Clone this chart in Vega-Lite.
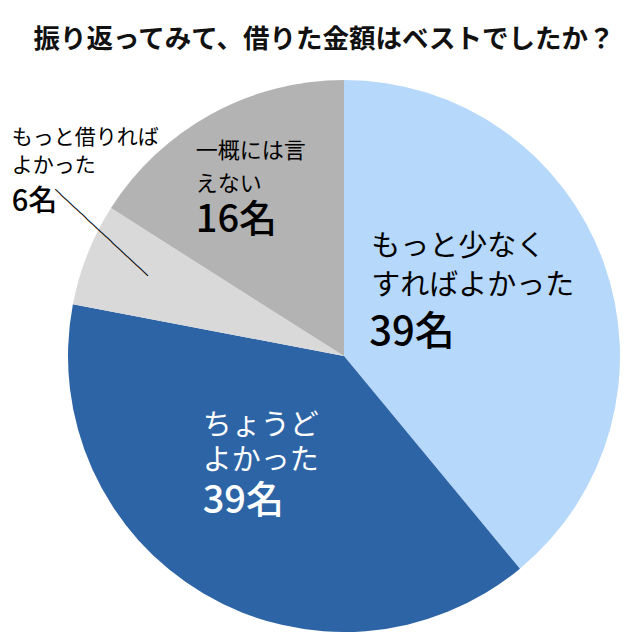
{
  "$schema": "https://vega.github.io/schema/vega-lite/v6.json",
  "description": "Pie chart: was the amount borrowed the best choice?",
  "width": 552,
  "height": 552,
  "autosize": {"type": "none"},
  "padding": {"left": 68, "top": 80, "right": 20, "bottom": 8},
  "background": "white",
  "config": {
    "view": {"stroke": null},
    "font": "Noto Sans CJK JP"
  },
  "title": {
    "text": "振り返ってみて、借りた金額はベストでしたか？",
    "fontSize": 26.5,
    "fontWeight": "bold",
    "color": "#111111",
    "anchor": "middle",
    "baseline": "bottom",
    "dx": -20,
    "offset": 0
  },
  "data": {
    "values": [
      {"k": "less", "o": 1, "n": 39, "label": "もっと少なく\nすればよかった", "num": "39名"},
      {"k": "just", "o": 2, "n": 39, "label": "ちょうど\nよかった", "num": "39名"},
      {"k": "more", "o": 3, "n": 6, "label": "もっと借りれば\nよかった", "num": "6名"},
      {"k": "unsure", "o": 4, "n": 16, "label": "一概には言\nえない", "num": "16名"}
    ]
  },
  "encoding": {
    "theta": {"field": "n", "type": "quantitative", "stack": true},
    "order": {"field": "o", "type": "quantitative"}
  },
  "layer": [
    {
      "mark": {"type": "arc", "outerRadius": 276},
      "encoding": {
        "color": {
          "field": "k",
          "type": "nominal",
          "scale": {
            "domain": ["less", "just", "more", "unsure"],
            "range": ["#b6d8fb", "#2d64a6", "#d9d9d9", "#b3b3b3"]
          },
          "legend": null
        }
      }
    },
    {
      "mark": {"type": "text", "radius": 270, "align": "center", "baseline": "middle", "font": "DejaVu Sans Mono", "fontSize": 11.7, "angle": 43, "xOffset": 8.5, "yOffset": -24, "color": "black"},
      "encoding": {"text": {"condition": {"test": "datum.k == 'more'", "value": "──────────────────"}, "value": ""}}
    },
    {
      "mark": {"type": "text", "radius": 150, "align": "left", "baseline": "middle", "fontSize": 29, "lineHeight": 39, "lineBreak": "\n", "dx": -114, "dy": -58, "color": "black"},
      "encoding": {"text": {"condition": {"test": "datum.k == 'less'", "field": "label"}, "value": ""}}
    },
    {
      "mark": {"type": "text", "radius": 150, "align": "left", "baseline": "middle", "fontSize": 40, "fontWeight": 500, "dx": -116, "dy": 28, "color": "black"},
      "encoding": {"text": {"condition": {"test": "datum.k == 'less'", "field": "num"}, "value": ""}}
    },
    {
      "mark": {"type": "text", "radius": 150, "align": "left", "baseline": "middle", "fontSize": 29, "lineHeight": 35, "lineBreak": "\n", "dx": -65, "dy": -59, "color": "white"},
      "encoding": {"text": {"condition": {"test": "datum.k == 'just'", "field": "label"}, "value": ""}}
    },
    {
      "mark": {"type": "text", "radius": 150, "align": "left", "baseline": "middle", "fontSize": 38, "fontWeight": 500, "dx": -65, "dy": 17, "color": "white"},
      "encoding": {"text": {"condition": {"test": "datum.k == 'just'", "field": "num"}, "value": ""}}
    },
    {
      "transform": [
        {"stack": "n", "groupby": [], "sort": [{"field": "o"}], "as": ["t0", "t1"]},
        {"filter": "datum.k == 'more'"}
      ],
      "mark": {"type": "text", "radius": 150, "align": "left", "baseline": "middle", "fontSize": 21, "lineHeight": 28, "lineBreak": "\n", "dx": -185, "dy": -190, "color": "black"},
      "encoding": {
        "theta": {"field": "t0", "type": "quantitative", "stack": null},
        "text": {"field": "label"}
      }
    },
    {
      "transform": [
        {"stack": "n", "groupby": [], "sort": [{"field": "o"}], "as": ["t0", "t1"]},
        {"filter": "datum.k == 'more'"}
      ],
      "mark": {"type": "text", "radius": 150, "align": "left", "baseline": "middle", "fontSize": 29, "fontWeight": 500, "dx": -185, "dy": -126, "color": "black"},
      "encoding": {
        "theta": {"field": "t0", "type": "quantitative", "stack": null},
        "text": {"field": "num"}
      }
    },
    {
      "mark": {"type": "text", "radius": 150, "align": "left", "baseline": "middle", "fontSize": 22, "lineHeight": 33, "lineBreak": "\n", "dx": -76, "dy": -74, "color": "black"},
      "encoding": {"text": {"condition": {"test": "datum.k == 'unsure'", "field": "label"}, "value": ""}}
    },
    {
      "mark": {"type": "text", "radius": 150, "align": "left", "baseline": "middle", "fontSize": 38, "fontWeight": 500, "dx": -76, "dy": -4, "color": "black"},
      "encoding": {"text": {"condition": {"test": "datum.k == 'unsure'", "field": "num"}, "value": ""}}
    }
  ]
}
